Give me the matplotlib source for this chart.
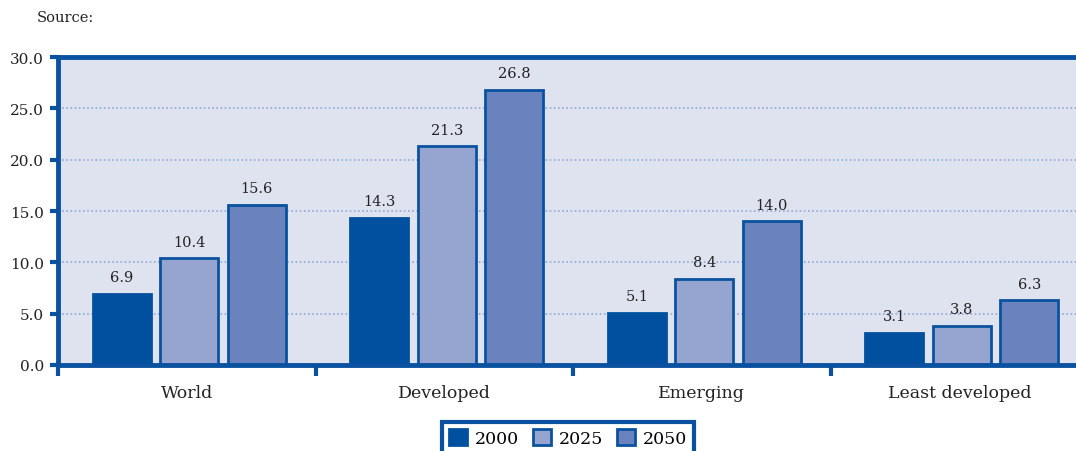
import matplotlib
matplotlib.use("Agg")
import matplotlib.pyplot as plt
import numpy as np
from matplotlib.ticker import FixedLocator

categories = ["World", "Developed", "Emerging", "Least developed"]
series_names = ["2000", "2025", "2050"]
values_2000 = [6.9, 14.3, 5.1, 3.1]
values_2025 = [10.4, 21.3, 8.4, 3.8]
values_2050 = [15.6, 26.8, 14.0, 6.3]
y_ticks = [0, 5, 10, 15, 20, 25, 30]

DARK = "#0a52a0"
colors = ["#0050a0", "#95a5d0", "#6a82bd"]
BG = "#dfe3f0"
TXT = "#222222"

plt.rcParams["font.family"] = ["DejaVu Serif"]

W, H = 1076, 452
fig = plt.figure(figsize=(W / 100, H / 100), dpi=100)
ax = fig.add_axes([58 / W, (H - 366) / H, (1088 - 58) / W, (366 - 58) / H])
ax.set_facecolor(BG)

x = np.arange(len(categories))
bw = 0.225
off = 0.262
series = [values_2000, values_2025, values_2050]
for i, (vals, col, name) in enumerate(zip(series, colors, series_names)):
    pos = x + (i - 1) * off + 0.01
    ec = col if i == 0 else DARK
    ax.bar(pos, vals, width=bw, color=col, edgecolor=ec, linewidth=2,
           label=name, zorder=3)
    for p, v in zip(pos, vals):
        ax.annotate(f"{v:.1f}", (p, v), xytext=(0, 7), textcoords="offset points",
                    ha="center", va="bottom", fontsize=10.5, color=TXT)

ax.set_xlim(-0.5, 3.5)
ax.set_ylim(0, 30)
ax.set_yticks(y_ticks)
ax.set_yticklabels([f"{t:.1f}" for t in y_ticks], fontsize=11, color=TXT)
ax.yaxis.grid(True, linestyle=(0, (1, 1.5)), color="#8fa8d8", linewidth=1.2, zorder=1)
ax.set_axisbelow(True)

ax.set_xticks(x)
ax.set_xticklabels(categories, fontsize=12.5, color=TXT)
ax.tick_params(axis="x", which="major", length=0, pad=14)
ax.xaxis.set_minor_locator(FixedLocator([-0.5, 0.5, 1.5, 2.5]))
ax.tick_params(axis="x", which="minor", length=8, width=3, color=DARK, direction="out")
ax.tick_params(axis="y", length=6, width=3, color=DARK, direction="out", pad=4)

for s in ["left", "bottom", "top"]:
    ax.spines[s].set_color(DARK)
    ax.spines[s].set_linewidth(3.5)
    ax.spines[s].set_zorder(5)
ax.spines["right"].set_visible(False)

fig.text(37 / W, 1 - 18 / H, "Source:", fontsize=10.5, ha="left", va="center", color=TXT)

leg = fig.legend(loc="upper center", bbox_to_anchor=(568 / W, (H - 423) / H), ncol=3,
                 fontsize=12.5, frameon=True, fancybox=False, framealpha=1,
                 handlelength=1.05, handleheight=1.05, handletextpad=0.45,
                 columnspacing=0.8, borderpad=0.4, borderaxespad=0)
leg.get_frame().set_edgecolor(DARK)
leg.get_frame().set_linewidth(3)
leg.get_frame().set_facecolor("white")

fig.savefig("out.png", dpi=100)
